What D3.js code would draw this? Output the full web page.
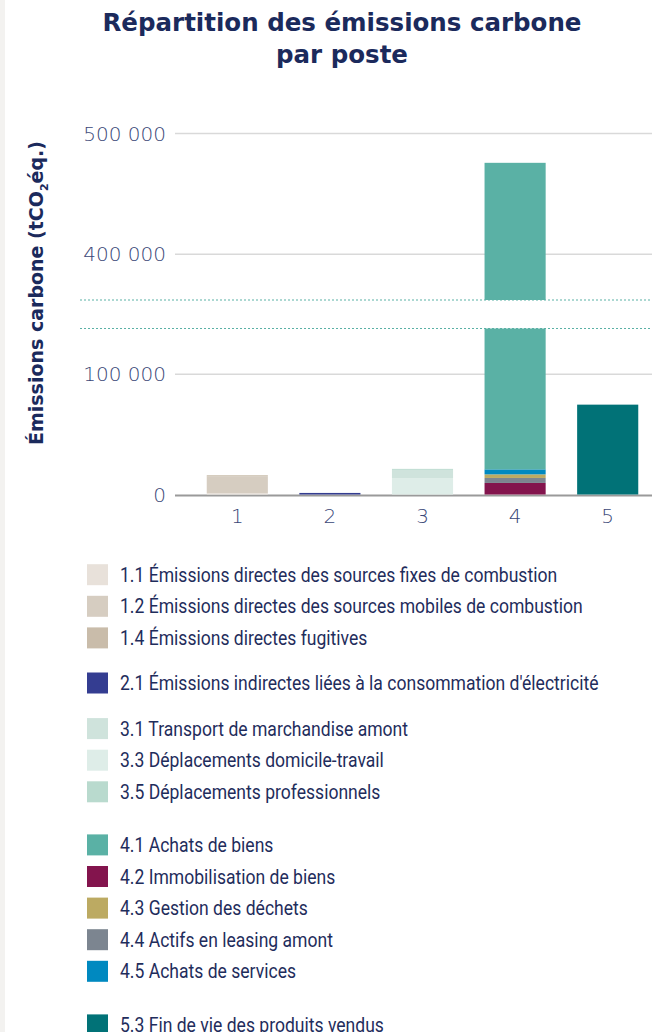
<!DOCTYPE html>
<html>
<head>
<meta charset="utf-8">
<script src="https://cdn.jsdelivr.net/npm/d3@7"></script>
<style>
  html, body { margin: 0; padding: 0; background: #fff; }
  svg { display: block; }
  .title { font-family: "DejaVu Sans", sans-serif; font-weight: bold; fill: #1b2a5c; }
  .tick-lbl { font-family: "DejaVu Sans", sans-serif; font-weight: 200; fill: #3a4777; }
  .legend-lbl { font-family: Roboto, sans-serif; fill: #1f2d5c; }
</style>
</head>
<body>
<svg id="chart"></svg>
<script>
const width = 652, height = 1032;

// postes (x categories)
const postes = ["1", "2", "3", "4", "5"];

// sous-postes : libellé, poste, couleur, valeur (tCO2éq.)
const seriesLabels = [
  "1.1 Émissions directes des sources fixes de combustion",
  "1.2 Émissions directes des sources mobiles de combustion",
  "1.4 Émissions directes fugitives",
  "2.1 Émissions indirectes liées à la consommation d'électricité",
  "3.1 Transport de marchandise amont",
  "3.3 Déplacements domicile-travail",
  "3.5 Déplacements professionnels",
  "4.1 Achats de biens",
  "4.2 Immobilisation de biens",
  "4.3 Gestion des déchets",
  "4.4 Actifs en leasing amont",
  "4.5 Achats de services",
  "5.3 Fin de vie des produits vendus"
];
const seriesPoste = ["1", "1", "1", "2", "3", "3", "3", "4", "4", "4", "4", "4", "5"];
const seriesColors = ["#e8e1da", "#d6cdc1", "#c9bcaa", "#343d91", "#cfe3dc", "#deede8", "#b9dace",
                      "#5ab1a5", "#83144d", "#bcaa62", "#7c8590", "#0089c0", "#017277"];
const seriesValues = [1100, 14100, 800, 1300, 6900, 13600, 800, 454800, 9600, 3000, 4150, 4150, 74700];
// ordre d'empilement (du bas vers le haut)
const stackOrder = ["1.1", "1.2", "1.4", "2.1", "3.3", "3.1", "3.5", "4.2", "4.4", "4.3", "4.5", "4.1", "5.3"];

const lowerTicks = [0, 100000];
const upperTicks = [400000, 500000];
const breakLow = 138000, breakHigh = 362000;

const legendGroupGaps = [0, 13.5, 14, 21.5, 22];

const svg = d3.select("#chart").attr("width", width).attr("height", height);

// light side strip
svg.append("rect").attr("x", 0).attr("y", 0).attr("width", 5).attr("height", height).attr("fill", "#f3f2f0");

// title
const title = svg.append("text").attr("class", "title")
    .attr("text-anchor", "middle").attr("font-size", 24.5);
title.append("tspan").attr("x", 342).attr("y", 31).text("Répartition des émissions carbone");
title.append("tspan").attr("x", 342).attr("y", 63).text("par poste");

// scales (axe coupé : deux morceaux à la même pente)
const yLow = d3.scaleLinear().domain([0, breakLow]).range([494.5, 328.5]);
const yHigh = d3.scaleLinear().domain([breakHigh, 500000]).range([300, 133.5]);
const x = d3.scaleBand().domain(postes).range([191, 654]).paddingInner(0.34).paddingOuter(0.17);

const gridX0 = 175, gridX1 = 652;

// gridlines + tick labels
function drawTicks(ticks, scale) {
  ticks.forEach(t => {
    if (t !== 0) {
      svg.append("line").attr("x1", gridX0).attr("x2", gridX1)
        .attr("y1", scale(t)).attr("y2", scale(t))
        .attr("stroke", "#d9d9d9").attr("stroke-width", 1.5);
    }
    svg.append("text").attr("class", "tick-lbl")
      .attr("x", 166).attr("y", scale(t)).attr("dy", "0.35em")
      .attr("text-anchor", "end").attr("font-size", 20)
      .text(d3.format(",")(t).replace(/,/g, " "));
  });
}
drawTicks(lowerTicks, yLow);
drawTicks(upperTicks, yHigh);

// break markers
[yLow(breakLow), yHigh(breakHigh)].forEach(yy => {
  svg.append("line").attr("x1", 80).attr("x2", gridX1).attr("y1", yy).attr("y2", yy)
    .attr("stroke", "#5ab1a5").attr("stroke-width", 1.2).attr("stroke-dasharray", "2,2");
});

// x axis baseline
svg.append("line").attr("x1", gridX0).attr("x2", gridX1)
  .attr("y1", yLow(0) + 1).attr("y2", yLow(0) + 1)
  .attr("stroke", "#9a9a9a").attr("stroke-width", 2);

// stacked segments
const segs = [];
const cum = {};
stackOrder.forEach(code => {
  const i = seriesLabels.findIndex(l => l.startsWith(code + " "));
  const p = seriesPoste[i];
  const y0 = cum[p] || 0;
  const y1 = y0 + seriesValues[i];
  cum[p] = y1;
  segs.push({poste: p, y0, y1, color: seriesColors[i]});
});

function pieces(d) {
  const out = [];
  if (d.y0 < breakLow) out.push({top: yLow(Math.min(d.y1, breakLow)), bot: yLow(d.y0)});
  if (d.y1 > breakHigh) out.push({top: yHigh(d.y1), bot: yHigh(Math.max(d.y0, breakHigh))});
  return out.map(o => Object.assign({}, d, o));
}

svg.append("g").selectAll("rect")
  .data(segs.flatMap(pieces))
  .join("rect")
    .attr("x", d => x(d.poste))
    .attr("width", x.bandwidth())
    .attr("y", d => d.top)
    .attr("height", d => Math.max(0, d.bot - d.top))
    .attr("fill", d => d.color);

// x tick labels
svg.append("g").selectAll("text").data(postes).join("text")
  .attr("class", "tick-lbl")
  .attr("x", d => x(d) + x.bandwidth() / 2)
  .attr("y", 516).attr("dy", "0.35em")
  .attr("text-anchor", "middle").attr("font-size", 20)
  .text(d => d);

// y axis title
const yt = svg.append("text").attr("class", "title")
  .attr("transform", "translate(43,293) rotate(-90)")
  .attr("text-anchor", "middle").attr("font-size", 19);
yt.append("tspan").text("Émissions carbone (tCO");
yt.append("tspan").attr("font-size", 11).attr("dy", 5).text("2");
yt.append("tspan").attr("dy", -5).text("éq.)");

// legend
const legend = svg.append("g");
let gi = -1, prev = null, yPos = 574.7 - 31.6, extra = 0;
seriesLabels.forEach((lbl, i) => {
  const p = seriesPoste[i];
  if (p !== prev) { gi++; extra += legendGroupGaps[gi]; prev = p; }
  yPos += 31.6;
  const cy = yPos + extra;
  legend.append("rect").attr("x", 87).attr("y", cy - 10.5)
    .attr("width", 21).attr("height", 21).attr("fill", seriesColors[i]);
  legend.append("text").attr("class", "legend-lbl")
    .attr("transform", `translate(120,${cy}) scale(0.9,1)`)
    .attr("dy", "0.36em")
    .attr("font-size", 19.5).text(lbl);
});
</script>
</body>
</html>
